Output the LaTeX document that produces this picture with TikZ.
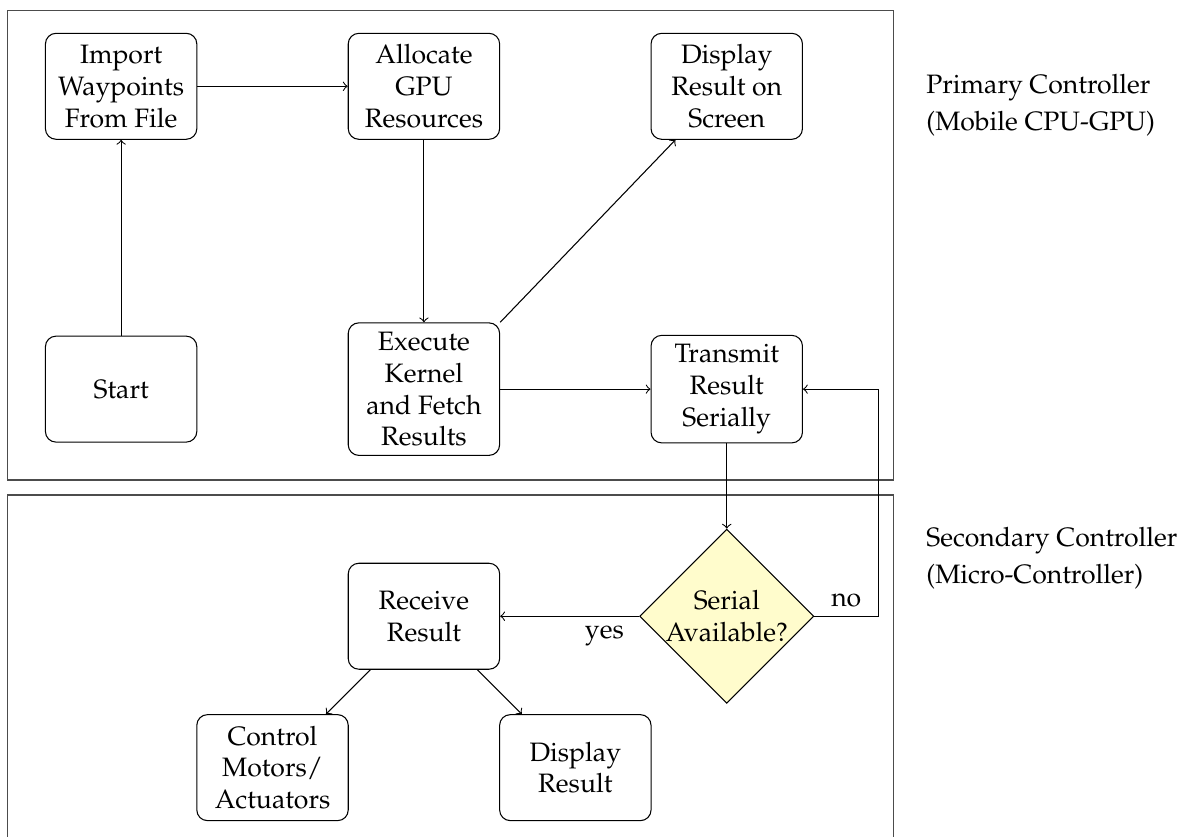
\documentclass[tikz,border=0pt]{standalone}
\usepackage[T1]{fontenc}
\usepackage{mathpazo}
\usepackage{tikz}
\usetikzlibrary{shapes.geometric}

\begin{document}
\begin{tikzpicture}[scale=1,
    stepbox/.style={draw, rounded corners, align=center, minimum width=2cm, minimum height=1.4cm},
    query/.style={draw, diamond, aspect=1, fill=yellow!20, align=center, inner sep=0pt, minimum width=2.26cm, minimum height=2.26cm},
    panel/.style={draw=black!70, semithick}]
      \useasboundingbox (-1.6,-5.905) rectangle (14.04,5.14);
      % the two controllers
      \draw[panel] (-1.5,-1.2) rectangle (10.2,5);
      \draw[panel] (-1.5,-6.2) rectangle (10.2,-1.4);
      \node (pri) at (10.63,3.75) [anchor=west, align=left, inner sep=0pt] {Primary Controller\\[2pt](Mobile CPU-GPU)};
      \node (sec) at (10.63,-2.23) [anchor=west, align=left, inner sep=0pt] {Secondary Controller\\[2pt](Micro-Controller)};
      % primary side
      \node (imp) at (0,4) [stepbox] {Import\\Waypoints\\From File};
      \node (alloc) at (4,4) [stepbox] {Allocate\\GPU\\Resources};
      \node (disp) at (8,4) [stepbox] {Display\\Result on\\Screen};
      \node (start) at (0,0) [stepbox] {Start};
      \node (exec) at (4,0) [stepbox] {Execute\\Kernel\\and Fetch\\Results};
      \node (trans) at (8,0) [stepbox] {Transmit\\Result\\Serially};
      % secondary side
      \node (ser) at (8,-3) [query] {Serial\\Available?};
      \node (recv) at (4,-3) [stepbox] {Receive\\Result};
      \node (ctrl) at (2,-5) [stepbox] {Control\\Motors/\\Actuators};
      \node (show) at (6,-5) [stepbox] {Display\\Result};
      \coordinate (loop) at (10,-3);
      \draw[->] (start) -- (imp);
      \draw[->] (imp) -- (alloc);
      \draw[->] (alloc) -- (exec);
      \draw[->] (exec.north east) -- (disp);
      \draw[->] (exec) -- (trans);
      \draw[->] (trans) -- (ser);
      \draw[->] (ser) -- node[above] {no} (loop) |- (trans);
      \draw[->] (ser) -- node[pos=0.25, below] {yes} (recv);
      \draw[->] (recv) -- (ctrl);
      \draw[->] (recv) -- (show);
    \end{tikzpicture}
\end{document}
